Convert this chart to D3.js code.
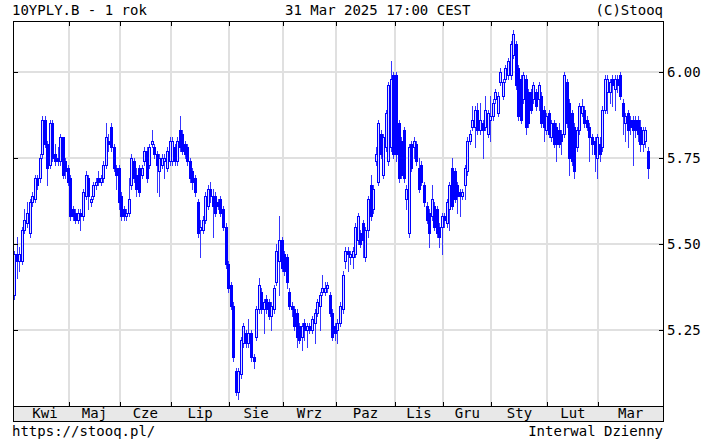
<!DOCTYPE html>
<html>
<head>
<meta charset="utf-8">
<script src="https://cdn.jsdelivr.net/npm/d3@7"></script>
<style>
  body { margin: 0; background: #fff; }
  text { font-family: "DejaVu Sans Mono", monospace; font-size: 14px; fill: #000; }
</style>
</head>
<body>
<script>
// 月ラベルと各月の営業日数
var months = ["Kwi", "Maj", "Cze", "Lip", "Sie", "Wrz", "Paz", "Lis", "Gru", "Sty", "Lut", "Mar"];
var monthDays = [22, 20, 20, 23, 21, 21, 23, 19, 19, 22, 20, 20];
var yTicks = [5.25, 5.50, 5.75, 6.00];

// 日足 (open / high / low / close), 月ごとに1行
var openVals = [
  5.35,5.47,5.45,5.45,5.54,5.56,5.53,5.62,5.63,5.69,5.69,5.76,5.86,5.79,5.73,5.85,5.76,5.75,5.74,5.81,5.74,5.72,
  5.69,5.60,5.59,5.57,5.59,5.58,5.64,5.69,5.62,5.64,5.67,5.69,5.68,5.69,5.73,5.80,5.84,5.78,5.72,5.72,
  5.64,5.60,5.58,5.59,5.67,5.74,5.70,5.72,5.70,5.74,5.77,5.73,5.79,5.78,5.76,5.71,5.73,5.74,5.72,5.74,
  5.74,5.78,5.74,5.83,5.82,5.79,5.78,5.74,5.71,5.69,5.62,5.54,5.54,5.57,5.61,5.66,5.64,5.64,5.62,5.63,5.60,5.55,5.44,
  5.38,5.32,5.13,5.07,5.12,5.21,5.24,5.21,5.24,5.17,5.23,5.31,5.36,5.31,5.34,5.33,5.29,5.31,5.39,5.45,5.51,
  5.47,5.46,5.36,5.32,5.31,5.30,5.26,5.23,5.27,5.25,5.26,5.25,5.27,5.30,5.32,5.36,5.36,5.37,5.35,5.30,5.26,
  5.25,5.27,5.31,5.45,5.48,5.46,5.46,5.47,5.51,5.53,5.56,5.46,5.54,5.67,5.60,5.74,5.68,5.82,5.70,5.78,5.74,5.78,5.99,
  5.99,5.85,5.80,5.83,5.63,5.53,5.79,5.78,5.79,5.72,5.73,5.67,5.61,5.59,5.58,5.61,5.60,5.55,5.55,
  5.58,5.56,5.60,5.72,5.71,5.67,5.65,5.64,5.67,5.71,5.80,5.84,5.84,5.89,5.83,5.85,5.84,5.82,5.86,
  5.87,5.92,5.88,5.97,5.93,5.98,5.99,5.99,6.05,6.08,6.01,5.98,5.92,5.98,5.94,5.94,5.92,5.94,5.92,5.93,5.89,5.83,
  5.88,5.81,5.85,5.84,5.83,5.82,5.82,5.97,5.91,5.88,5.84,5.78,5.83,5.88,5.89,5.86,5.84,5.81,5.80,5.75,
  5.79,5.78,5.89,5.94,5.94,5.98,5.95,5.98,5.99,5.91,5.85,5.88,5.86,5.86,5.86,5.86,5.84,5.79,5.80,5.77
];
var highVals = [
  5.48,5.52,5.49,5.55,5.60,5.62,5.63,5.65,5.70,5.70,5.76,5.87,5.87,5.80,5.86,5.86,5.79,5.78,5.82,5.81,5.75,5.73,
  5.70,5.61,5.60,5.60,5.60,5.66,5.71,5.70,5.64,5.68,5.69,5.71,5.70,5.74,5.85,5.82,5.85,5.79,5.73,5.73,
  5.65,5.61,5.60,5.69,5.76,5.75,5.72,5.73,5.73,5.78,5.78,5.79,5.83,5.79,5.77,5.76,5.76,5.76,5.78,5.81,
  5.81,5.79,5.81,5.87,5.83,5.80,5.79,5.75,5.72,5.70,5.63,5.57,5.58,5.65,5.67,5.68,5.66,5.65,5.63,5.64,5.61,5.56,5.45,
  5.39,5.33,5.14,5.14,5.23,5.27,5.25,5.28,5.25,5.18,5.32,5.40,5.37,5.34,5.35,5.34,5.33,5.38,5.50,5.58,5.52,
  5.48,5.47,5.37,5.33,5.32,5.31,5.27,5.27,5.28,5.27,5.27,5.29,5.31,5.34,5.36,5.41,5.39,5.39,5.36,5.31,5.27,
  5.28,5.33,5.42,5.49,5.49,5.48,5.49,5.56,5.59,5.54,5.57,5.55,5.64,5.70,5.67,5.78,5.86,5.83,5.82,5.89,5.97,6.03,6.00,
  6.00,5.86,5.81,5.84,5.67,5.79,5.80,5.81,5.80,5.75,5.74,5.68,5.62,5.60,5.67,5.62,5.61,5.56,5.59,
  5.59,5.63,5.68,5.75,5.72,5.68,5.66,5.66,5.73,5.81,5.83,5.90,5.90,5.91,5.91,5.86,5.93,5.89,5.93,
  5.92,5.95,5.94,6.01,5.98,6.02,6.04,6.09,6.12,6.09,6.02,5.99,6.00,5.99,5.95,5.95,5.97,5.95,5.97,5.94,5.90,5.88,
  5.89,5.86,5.86,5.85,5.85,5.83,6.00,5.98,5.92,5.89,5.85,5.84,5.91,5.92,5.90,5.87,5.85,5.82,5.81,5.82,
  5.81,5.90,5.99,5.99,5.98,5.99,5.99,5.99,6.00,5.92,5.88,5.89,5.87,5.87,5.87,5.87,5.86,5.84,5.84,5.78
];
var lowVals = [
  5.34,5.40,5.42,5.44,5.53,5.55,5.52,5.61,5.62,5.66,5.68,5.75,5.78,5.67,5.72,5.74,5.73,5.73,5.73,5.69,5.69,5.67,
  5.57,5.57,5.56,5.56,5.54,5.57,5.63,5.60,5.61,5.63,5.66,5.67,5.67,5.68,5.72,5.77,5.77,5.71,5.66,5.60,
  5.57,5.57,5.57,5.58,5.66,5.68,5.64,5.64,5.69,5.73,5.68,5.72,5.78,5.75,5.65,5.64,5.72,5.69,5.71,5.73,
  5.73,5.73,5.73,5.77,5.76,5.75,5.73,5.68,5.66,5.64,5.52,5.46,5.53,5.56,5.60,5.62,5.52,5.58,5.60,5.58,5.54,5.43,5.36,
  5.31,5.16,5.06,5.05,5.11,5.20,5.20,5.20,5.16,5.14,5.22,5.30,5.30,5.24,5.30,5.28,5.25,5.30,5.38,5.35,5.42,
  5.41,5.37,5.31,5.29,5.25,5.20,5.21,5.19,5.22,5.20,5.24,5.24,5.21,5.29,5.25,5.35,5.35,5.36,5.29,5.22,5.22,
  5.21,5.26,5.30,5.43,5.42,5.44,5.43,5.46,5.50,5.49,5.46,5.45,5.52,5.57,5.59,5.73,5.67,5.75,5.69,5.77,5.73,5.77,5.75,
  5.74,5.68,5.69,5.68,5.60,5.52,5.71,5.75,5.73,5.65,5.67,5.61,5.56,5.49,5.57,5.54,5.52,5.49,5.47,
  5.55,5.55,5.54,5.60,5.62,5.59,5.58,5.63,5.63,5.70,5.79,5.83,5.78,5.82,5.82,5.75,5.83,5.81,5.80,
  5.86,5.91,5.87,5.96,5.92,5.97,5.98,5.98,6.04,5.95,5.86,5.85,5.91,5.82,5.84,5.88,5.91,5.89,5.89,5.84,5.80,5.82,
  5.81,5.80,5.78,5.74,5.78,5.76,5.81,5.84,5.70,5.73,5.69,5.77,5.82,5.87,5.84,5.83,5.74,5.76,5.71,5.69,
  5.74,5.77,5.88,5.88,5.91,5.90,5.89,5.94,5.92,5.82,5.80,5.78,5.82,5.73,5.81,5.80,5.77,5.77,5.78,5.69
];
var closeVals = [
  5.47,5.45,5.47,5.54,5.57,5.59,5.62,5.64,5.69,5.67,5.75,5.86,5.79,5.72,5.85,5.75,5.74,5.74,5.81,5.70,5.71,5.68,
  5.58,5.58,5.57,5.59,5.58,5.65,5.70,5.64,5.63,5.67,5.68,5.68,5.69,5.73,5.81,5.79,5.78,5.72,5.70,5.62,
  5.58,5.58,5.59,5.63,5.75,5.69,5.66,5.65,5.72,5.77,5.69,5.78,5.80,5.76,5.73,5.75,5.75,5.75,5.77,5.80,
  5.80,5.74,5.80,5.78,5.77,5.76,5.74,5.69,5.68,5.65,5.53,5.55,5.57,5.64,5.66,5.64,5.61,5.59,5.61,5.59,5.55,5.44,5.37,
  5.32,5.17,5.07,5.13,5.22,5.26,5.21,5.24,5.17,5.16,5.31,5.38,5.31,5.33,5.31,5.29,5.32,5.37,5.48,5.51,5.43,
  5.42,5.39,5.32,5.31,5.26,5.23,5.22,5.26,5.25,5.26,5.25,5.28,5.30,5.33,5.35,5.37,5.37,5.38,5.30,5.23,5.24,
  5.27,5.32,5.41,5.48,5.47,5.47,5.48,5.55,5.58,5.50,5.51,5.54,5.63,5.58,5.66,5.76,5.85,5.76,5.81,5.88,5.96,5.98,5.76,
  5.76,5.69,5.70,5.69,5.66,5.78,5.72,5.80,5.74,5.66,5.68,5.62,5.57,5.53,5.63,5.55,5.53,5.52,5.58,
  5.57,5.62,5.67,5.61,5.63,5.64,5.64,5.65,5.72,5.80,5.82,5.86,5.89,5.83,5.86,5.83,5.89,5.88,5.87,
  5.91,5.94,5.93,6.00,5.97,6.01,6.03,6.08,6.11,5.96,5.87,5.86,5.99,5.84,5.85,5.89,5.96,5.90,5.96,5.85,5.84,5.87,
  5.82,5.85,5.79,5.79,5.79,5.80,5.99,5.85,5.75,5.74,5.71,5.83,5.90,5.90,5.85,5.84,5.81,5.79,5.76,5.81,
  5.76,5.89,5.98,5.98,5.97,5.96,5.98,5.96,5.93,5.87,5.87,5.83,5.84,5.83,5.83,5.82,5.79,5.83,5.83,5.72
];

// グラフ枠の設定
var W = 706, H = 442;
var plot = {left: 13, right: 663, top: 21, bottom: 406};
var bandBottom = 421;

var candles = closeVals.map(function(c, i) {
  return {i: i, o: openVals[i], h: highVals[i], l: lowVals[i], c: c};
});

// 月の境界 (日インデックス)
var bounds = [0];
monthDays.forEach(function(n, k) { bounds.push(bounds[k] + n); });

// Scaleの設定
var xScale = d3.scaleLinear().domain([0, 255.4]).range([plot.left, plot.right]);
var yScale = d3.scaleLinear().domain([5.25, 6.00]).range([329.7, 71.7]);

var svg = d3.select("body").append("svg")
    .attr("width", W)
    .attr("height", H);

// グリッド線
var grid = svg.append("g").attr("stroke", "#e0e0e0").attr("stroke-width", 2);
yTicks.forEach(function(t) {
  var y = Math.round(yScale(t));
  grid.append("line").attr("x1", plot.left).attr("x2", plot.right).attr("y1", y).attr("y2", y);
});
bounds.slice(1, months.length).forEach(function(b) {
  var x = Math.round(xScale(b));
  grid.append("line").attr("x1", x).attr("x2", x).attr("y1", plot.top).attr("y2", plot.bottom);
});

// ローソク足
var cg = svg.append("g").attr("shape-rendering", "crispEdges");
candles.forEach(function(d) {
  var cx = Math.round(xScale(d.i + 0.5));
  var up = d.c >= d.o;
  var yTop = Math.round(yScale(Math.max(d.o, d.c)));
  var yBot = Math.round(yScale(Math.min(d.o, d.c)));
  cg.append("rect")
    .attr("x", cx).attr("y", Math.round(yScale(d.h)))
    .attr("width", 1).attr("height", Math.round(yScale(d.l)) - Math.round(yScale(d.h)) + 1)
    .attr("fill", "#3535ff");
  cg.append("rect")
    .attr("x", cx - 1).attr("y", yTop)
    .attr("width", 3).attr("height", Math.max(yBot - yTop + 1, 2))
    .attr("fill", "#0000ff");
  if (up && yBot - yTop > 1) {
    cg.append("rect")
      .attr("x", cx).attr("y", yTop + 1)
      .attr("width", 1).attr("height", yBot - yTop - 1)
      .attr("fill", "#dcdcff");
  }
});

// 枠と目盛り
svg.append("rect")
  .attr("x", plot.left + 0.5).attr("y", plot.top + 0.5)
  .attr("width", plot.right - plot.left).attr("height", plot.bottom - plot.top)
  .attr("fill", "none").attr("stroke", "#000");

var ticks = svg.append("g").attr("stroke", "#000").attr("stroke-width", 1);
yTicks.forEach(function(t) {
  var y = Math.round(yScale(t)) + 0.5;
  ticks.append("line").attr("x1", plot.left).attr("x2", plot.left + 5).attr("y1", y).attr("y2", y);
  ticks.append("line").attr("x1", plot.right - 4).attr("x2", plot.right + 1).attr("y1", y).attr("y2", y);
});
bounds.slice(1, months.length).forEach(function(b) {
  var x = Math.round(xScale(b)) + 0.5;
  ticks.append("line").attr("x1", x).attr("x2", x).attr("y1", plot.top).attr("y2", plot.top + 5);
  ticks.append("line").attr("x1", x).attr("x2", x).attr("y1", plot.bottom - 4).attr("y2", plot.bottom);
});

// Y軸ラベル
yTicks.forEach(function(t) {
  svg.append("text")
    .attr("x", plot.right + 4)
    .attr("y", Math.round(yScale(t)) + 5)
    .text(d3.format(".2f")(t));
});

// X軸の帯
svg.append("rect")
  .attr("x", plot.left + 0.5).attr("y", plot.bottom + 0.5)
  .attr("width", plot.right - plot.left).attr("height", bandBottom - plot.bottom)
  .attr("fill", "#e8e8e8").attr("stroke", "#000");

months.forEach(function(m, k) {
  var x0 = k === 0 ? xScale(bounds[0]) + 8 : xScale(bounds[k]);
  var x1 = k < months.length - 1 ? xScale(bounds[k + 1]) : plot.right;
  svg.append("text")
    .attr("x", (x0 + x1) / 2)
    .attr("y", bandBottom - 3)
    .attr("text-anchor", "middle")
    .text(m);
});

// タイトルとフッター
svg.append("text").attr("x", 12).attr("y", 15).text("10YPLY.B - 1 rok");
svg.append("text").attr("x", 285).attr("y", 15).text("31 Mar 2025 17:00 CEST");
svg.append("text").attr("x", plot.right).attr("y", 15).attr("text-anchor", "end").text("(C)Stooq");
svg.append("text").attr("x", 12).attr("y", 436).text("https://stooq.pl/");
svg.append("text").attr("x", plot.right).attr("y", 436).attr("text-anchor", "end").text("Interwal Dzienny");
</script>
</body>
</html>
